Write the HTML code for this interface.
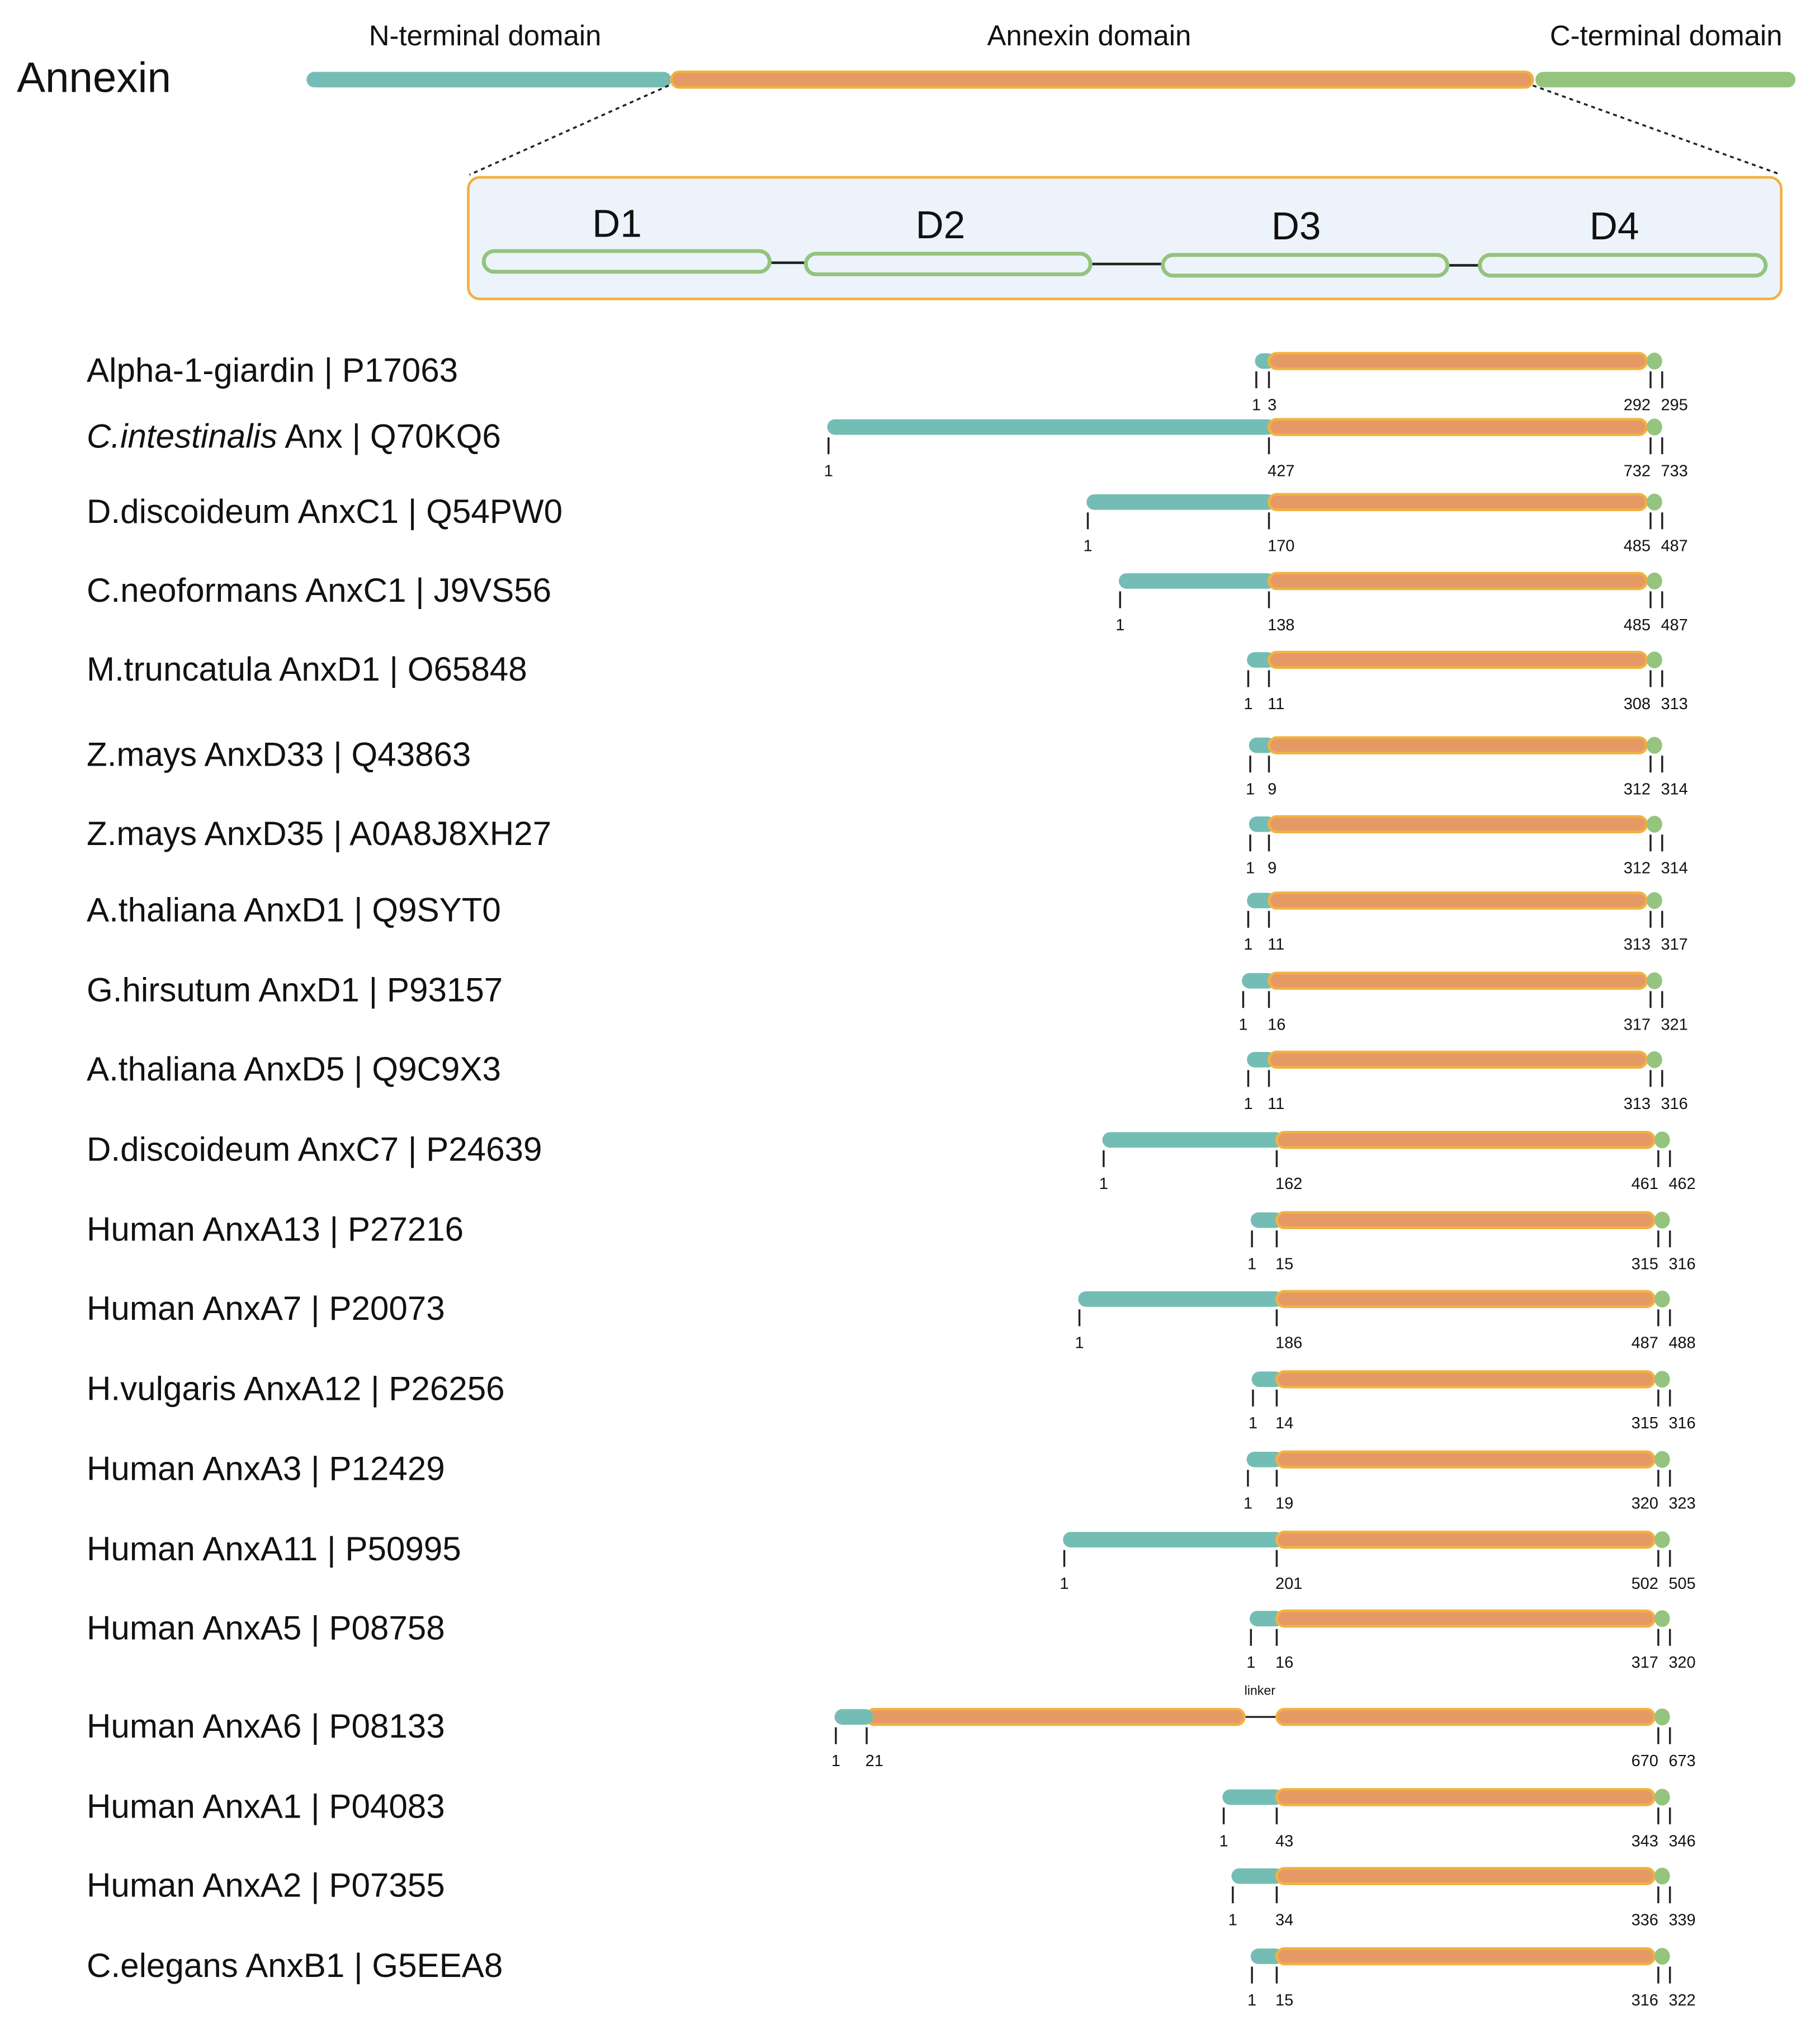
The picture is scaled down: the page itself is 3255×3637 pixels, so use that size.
<!DOCTYPE html>
<html><head><meta charset="utf-8"><style>
html,body{margin:0;padding:0;background:#fff}
svg{display:block}
text{font-family:"Liberation Sans",sans-serif;fill:#111}
</style></head><body>
<svg id="fig" width="3255" height="3637" viewBox="0 0 1407 1572" xmlns="http://www.w3.org/2000/svg">
<g>
<text x="13" y="71" font-size="33">Annexin</text>
<text x="375" y="35" font-size="22" text-anchor="middle">N-terminal domain</text>
<text x="842" y="35" font-size="22" text-anchor="middle">Annexin domain</text>
<text x="1288" y="35" font-size="22" text-anchor="middle">C-terminal domain</text>
<rect x="237" y="55.5" width="282" height="12" rx="6" fill="#74bdb5"/>
<rect x="519" y="55.5" width="666" height="12" rx="6" fill="#e59a66" stroke="#f2b240" stroke-width="2"/>
<rect x="1187" y="55.5" width="201" height="12" rx="6" fill="#95c47e"/>
<line x1="517" y1="66" x2="363" y2="135" stroke="#222" stroke-width="1.5" stroke-dasharray="3,3"/>
<line x1="1185" y1="66" x2="1377" y2="135" stroke="#222" stroke-width="1.5" stroke-dasharray="3,3"/>
<rect x="362" y="137" width="1015" height="94" rx="9" fill="#edf3fb" stroke="#f2b240" stroke-width="2"/>
<line x1="595" y1="203" x2="623" y2="203" stroke="#222" stroke-width="2"/>
<line x1="843" y1="204" x2="899" y2="204" stroke="#222" stroke-width="2"/>
<line x1="1119" y1="205" x2="1143" y2="205" stroke="#222" stroke-width="2"/>
<rect x="374" y="194" width="221" height="16" rx="8" fill="#edf3fb" stroke="#93c47d" stroke-width="3"/>
<rect x="623" y="196" width="220" height="16" rx="8" fill="#edf3fb" stroke="#93c47d" stroke-width="3"/>
<rect x="899" y="197" width="220" height="16" rx="8" fill="#edf3fb" stroke="#93c47d" stroke-width="3"/>
<rect x="1144" y="197" width="221" height="16" rx="8" fill="#edf3fb" stroke="#93c47d" stroke-width="3"/>
<text x="477" y="183" font-size="30" text-anchor="middle">D1</text>
<text x="727" y="184" font-size="30" text-anchor="middle">D2</text>
<text x="1002" y="185" font-size="30" text-anchor="middle">D3</text>
<text x="1248" y="185" font-size="30" text-anchor="middle">D4</text>
</g>
<g id="rows"></g>
</svg>
<script>
const names = ["Alpha-1-giardin | P17063","C.intestinalis Anx | Q70KQ6","D.discoideum AnxC1 | Q54PW0","C.neoformans AnxC1 | J9VS56","M.truncatula AnxD1 | O65848","Z.mays AnxD33 | Q43863","Z.mays AnxD35 | A0A8J8XH27","A.thaliana AnxD1 | Q9SYT0","G.hirsutum AnxD1 | P93157","A.thaliana AnxD5 | Q9C9X3","D.discoideum AnxC7 | P24639","Human AnxA13 | P27216","Human AnxA7 | P20073","H.vulgaris AnxA12 | P26256","Human AnxA3 | P12429","Human AnxA11 | P50995","Human AnxA5 | P08758","Human AnxA6 | P08133","Human AnxA1 | P04083","Human AnxA2 | P07355","C.elegans AnxB1 | G5EEA8"];
const annStart = [3,427,170,138,11,9,9,11,16,11,162,15,186,14,19,201,16,21,43,34,15];
const annEnd = [292,732,485,485,308,312,312,313,317,313,461,315,487,315,320,502,317,670,343,336,316];
const protEnd = [295,733,487,487,313,314,314,317,321,316,462,316,488,316,323,505,320,673,346,339,322];
const hasLinker = [0,0,0,0,0,0,0,0,0,0,0,0,0,0,0,0,0,1,0,0,0];
// layout (row positions)
const barY = [273,324,382,443,504,570,631,690,752,813,875,937,998,1060,1122,1184,1245,1321,1383,1444,1506];
const NS="http://www.w3.org/2000/svg";
const g=document.getElementById('rows');
function mk(tag,attrs,parent){const e=document.createElementNS(NS,tag);for(const k in attrs)e.setAttribute(k,attrs[k]);(parent||g).appendChild(e);return e;}
const AW=292, H=12;
function nWidth(n){return 10+0.78*(n-1);}
names.forEach((nm,i)=>{
  const y=barY[i], cy=y+H/2;
  const row=mk('g',{});
  
  
  const t=mk('text',{x:67,y:cy+16,'font-size':26},row);
  
  
  if(nm.startsWith('C.intestinalis')){
    const a=mk('tspan',{'font-style':'italic'},t);a.textContent='C.intestinalis';
    const b=mk('tspan',{},t);b.textContent=nm.slice(14);
  } else t.textContent=nm;
  const annX = i<10?981:987;
  const aEndX = annX+AW;
  let firstAnnX = annX;
  if(hasLinker[i]){
    firstAnnX = annX-AW-25;
    const l=mk('line',{x1:firstAnnX+AW,y1:cy,x2:annX,y2:cy,stroke:'#222','stroke-width':1.5},row);
    
    
    const lt=mk('text',{x:974,y:y-11,'font-size':10,'text-anchor':'middle'},row);
    lt.textContent='linker';
    
    
    const a1=mk('rect',{x:firstAnnX,y:y,width:AW,height:H,rx:6,fill:'#e59a66',stroke:'#f2b240','stroke-width':2},row);
    
    
  }
  const nw=nWidth(annStart[i]-1);
  const nx=firstAnnX-nw;
  const nb=mk('rect',{x:nx,y:y,width:nw+5,height:H,rx:Math.min(6,(nw+5)/2),fill:'#74bdb5'},row);
  
  
  const ab=mk('rect',{x:annX,y:y,width:AW,height:H,rx:6,fill:'#e59a66',stroke:'#f2b240','stroke-width':2},row);
  
  
  const cx=aEndX+6;
  const cb=mk('ellipse',{cx:cx,cy:cy,rx:6,ry:6.5,fill:'#95c47e'},row);
  
  
  const ticks=[[nx+1,'1','middle'],[firstAnnX,String(annStart[i]),'start'],[aEndX+3,String(annEnd[i]),'end'],[aEndX+12,String(protEnd[i]),'start']];
  ticks.forEach((tk,j)=>{
    const tl=mk('line',{x1:tk[0],y1:y+H+2,x2:tk[0],y2:y+H+15,stroke:'#222','stroke-width':1.5},row);
    
    
    let tx=tk[0]; if(j===1)tx-=1; if(j===3)tx-=1;
    const tt=mk('text',{x:tx,y:y+H+22+10,'font-size':12.5,'text-anchor':tk[2]},row);
    tt.textContent=tk[1];
    
    
  });
});
</script>
</body></html>
